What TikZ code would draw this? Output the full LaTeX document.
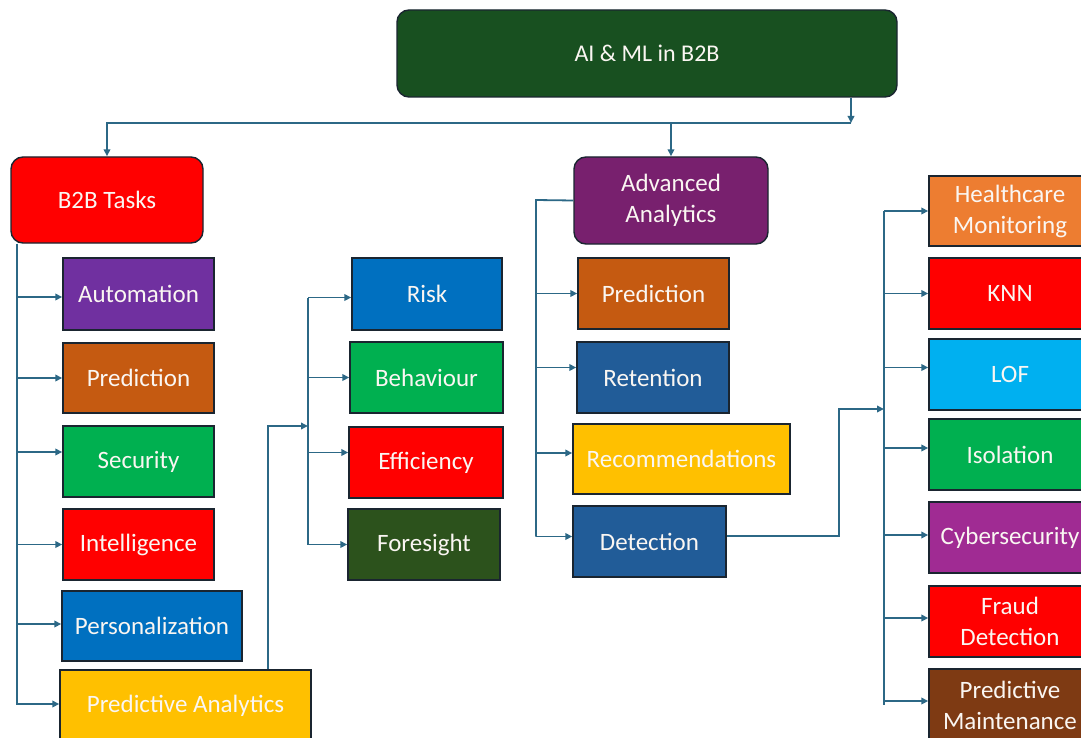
\documentclass[tikz,border=0pt]{standalone}
\usepackage{fontspec}
\setmainfont{Carlito}
\usetikzlibrary{arrows.meta,calc}
\definecolor{bordc}{RGB}{26,37,48}
\definecolor{linec}{RGB}{44,104,134}
\definecolor{txtc}{RGB}{250,246,242}
\definecolor{topg}{RGB}{24,80,32}
\definecolor{cred}{RGB}{255,0,0}
\definecolor{cpurple}{RGB}{112,48,160}
\definecolor{cbrown}{RGB}{197,90,17}
\definecolor{cgreen}{RGB}{0,176,80}
\definecolor{cblue}{RGB}{0,112,192}
\definecolor{cyellow}{RGB}{255,192,0}
\definecolor{cdkgreen}{RGB}{44,82,28}
\definecolor{caa}{RGB}{120,32,110}
\definecolor{cdkblue}{RGB}{33,92,152}
\definecolor{corange}{RGB}{237,125,49}
\definecolor{cltblue}{RGB}{0,176,240}
\definecolor{cmagenta}{RGB}{160,43,147}
\definecolor{cdkbrown}{RGB}{126,58,19}
\begin{document}
\begin{tikzpicture}[x=1pt,y=-1pt,
  box/.style={draw=bordc, line width=1.4pt, text=txtc, inner sep=0pt, align=center,
    font=\fontsize{25}{31}\selectfont},
  rbox/.style={box, rounded corners=12pt},
  conn/.style={draw=linec, line width=1.8pt},
  arr/.style={conn, -{Triangle[length=7pt,width=6.5pt]}},
]
\useasboundingbox (0,0) rectangle (1081,738);
\fill[white] (0,0) rectangle (1081,738);

% top level
\node[rbox, fill=topg, minimum width=500pt, minimum height=87pt, font=\fontsize{24}{29}\selectfont] (top) at (647,53.5) {AI \& ML in B2B};
\node[rbox, fill=cred, minimum width=192pt, minimum height=86pt] (b2b) at (107,200) {B2B Tasks};
\node[rbox, fill=caa, minimum width=194pt, minimum height=87pt] (aa) at (671,200.5) {Advanced\\Analytics};

% left column
\node[box, fill=cpurple, minimum width=151pt, minimum height=72pt] (auto) at (138.5,294) {Automation};
\node[box, fill=cbrown, minimum width=151pt, minimum height=70pt] (predA) at (138.5,378) {Prediction};
\node[box, fill=cgreen, minimum width=151pt, minimum height=71pt] (sec) at (138.5,461.5) {Security};
\node[box, fill=cred, minimum width=151pt, minimum height=71pt] (intel) at (138.5,544.5) {Intelligence};
\node[box, fill=cblue, minimum width=180pt, minimum height=70pt] (pers) at (152,626) {Personalization};
\node[box, fill=cyellow, minimum width=251pt, minimum height=72pt] (pa) at (185.5,706) {Predictive Analytics};

% middle column
\node[box, fill=cblue, minimum width=150pt, minimum height=72pt] (risk) at (427,294) {Risk};
\node[box, fill=cgreen, minimum width=153pt, minimum height=71pt] (beh) at (426.5,377.5) {Behaviour};
\node[box, fill=cred, minimum width=154pt, minimum height=71pt] (eff) at (426,462.5) {Efficiency};
\node[box, fill=cdkgreen, minimum width=152pt, minimum height=71pt] (fore) at (424,544.5) {Foresight};

% analytics column
\node[box, fill=cbrown, minimum width=151pt, minimum height=71pt] (predB) at (653.5,293.5) {Prediction};
\node[box, fill=cdkblue, minimum width=152pt, minimum height=71pt] (ret) at (653,377.5) {Retention};
\node[box, fill=cyellow, minimum width=217pt, minimum height=70pt] (rec) at (681.5,459) {Recommendations};
\node[box, fill=cdkblue, minimum width=153pt, minimum height=71pt] (det) at (649.5,541.5) {Detection};

% right column
\node[box, fill=corange, minimum width=162pt, minimum height=70pt] (hc) at (1010,211) {Healthcare\\Monitoring};
\node[box, fill=cred, minimum width=162pt, minimum height=71pt] (knn) at (1010,293.5) {KNN};
\node[box, fill=cltblue, minimum width=162pt, minimum height=71pt] (lof) at (1010,374.5) {LOF};
\node[box, fill=cgreen, minimum width=162pt, minimum height=71pt] (iso) at (1010,454.5) {Isolation};
\node[box, fill=cmagenta, minimum width=162pt, minimum height=71pt] (cyb) at (1010,537.5) {Cybersecurity};
\node[box, fill=cred, minimum width=162pt, minimum height=71pt] (fraud) at (1010,621.5) {Fraud\\Detection};
\node[box, fill=cdkbrown, minimum width=162pt, minimum height=72pt] (pm) at (1010,705) {Predictive\\Maintenance};

% junction coordinates
\coordinate (j) at (851,123);
\coordinate (sp1) at ([xshift=7pt]b2b.south west);
\coordinate (sp2) at (308,426);
\coordinate (sp3) at (536,200);
\coordinate (sp4) at (884,409);

% top connectors
\draw[arr] (top.south -| j) -- (j);
\draw[arr] (j) -| (b2b.north);
\draw[arr] (j -| aa.north) -- (aa.north);

% B2B tasks spine
\draw[arr] (sp1) |- ([yshift=2pt]pa.west);
\draw[arr] (sp1 |- auto.west) ++(0,3) -- ([yshift=-3pt]auto.west);
\draw[arr] (sp1 |- predA.west) -- (predA.west);
\draw[arr] (sp1 |- sec.west) ++(0,-9.5) -- ([yshift=9.5pt]sec.west);
\draw[arr] (sp1 |- intel.west) -- (intel.west);
\draw[arr] (sp1 |- pers.west) ++(0,-2) -- ([yshift=2pt]pers.west);

% predictive analytics branch
\draw[arr] ([xshift=-44pt]pa.north east) |- (sp2);
\draw[conn] (sp2 |- risk.west) ++(0,3.5) -- (sp2 |- fore.west);
\draw[arr] (sp2 |- risk.west) ++(0,3.5) -- ([yshift=-3.5pt]risk.west);
\draw[arr] (sp2 |- beh.west) -- (beh.west);
\draw[arr] (sp2 |- eff.west) ++(0,-10) -- ([yshift=10pt]eff.west);
\draw[arr] (sp2 |- fore.west) -- (fore.west);

% advanced analytics branch
\draw[conn] (aa.west) -- (sp3) -- ([yshift=5pt]sp3 |- det.west);
\draw[arr] (sp3 |- predB.west) -- (predB.west);
\draw[arr] (sp3 |- ret.west) ++(0,-10) -- ([yshift=10pt]ret.west);
\draw[arr] (sp3 |- rec.west) ++(0,-6) -- ([yshift=6pt]rec.west);
\draw[arr] (sp3 |- det.west) ++(0,-5) -- ([yshift=5pt]det.west);

% detection branch
\draw[arr] ([yshift=5.5pt]det.east) -- ++(112,0) |- (sp4);
\draw[conn] (sp4 |- hc.west) -- (sp4 |- pm.west);
\draw[arr] (sp4 |- hc.west) -- (hc.west);
\draw[arr] (sp4 |- knn.west) -- (knn.west);
\draw[arr] (sp4 |- lof.west) ++(0,-7) -- ([yshift=7pt]lof.west);
\draw[arr] (sp4 |- iso.west) ++(0,-6.5) -- ([yshift=6.5pt]iso.west);
\draw[arr] (sp4 |- cyb.west) ++(0,-2.5) -- ([yshift=2.5pt]cyb.west);
\draw[arr] (sp4 |- fraud.west) ++(0,-3.5) -- ([yshift=3.5pt]fraud.west);
\draw[arr] (sp4 |- pm.west) ++(0,-4) -- ([yshift=4pt]pm.west);
\end{tikzpicture}
\end{document}
